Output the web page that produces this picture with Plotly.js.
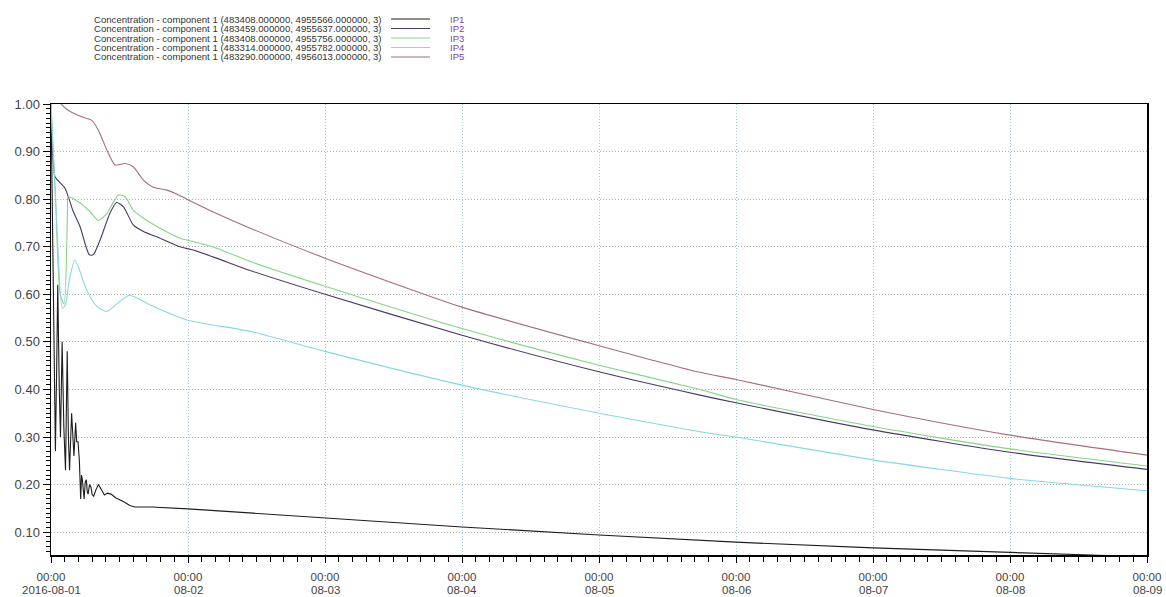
<!DOCTYPE html>
<html>
<head>
<meta charset="utf-8">
<script src="https://cdn.plot.ly/plotly-3.0.1.min.js"></script>
<style>html,body{margin:0;padding:0;background:#fff;}#chart{width:1166px;height:597px;}</style>
</head>
<body>
<div id="chart"></div>
<script>
// ---- data (hours since 2016-08-01 00:00, concentration) ----
const seriesNames = ["IP1", "IP2", "IP3", "IP4", "IP5"];
const seriesLabels = [
  "Concentration - component 1 (483408.000000, 4955566.000000, 3)",
  "Concentration - component 1 (483459.000000, 4955637.000000, 3)",
  "Concentration - component 1 (483408.000000, 4955756.000000, 3)",
  "Concentration - component 1 (483314.000000, 4955782.000000, 3)",
  "Concentration - component 1 (483290.000000, 4956013.000000, 3)"
];
const seriesColors = ["#1e1e1e", "#453a68", "#86d486", "#86d8e2", "#a86c7a"];

const ip1Hours = [0, 0.15, 0.35, 0.6, 0.77, 1.0, 1.18, 1.45, 1.66, 1.95, 2.25, 2.54, 2.84, 3.05, 3.25, 3.61, 3.8, 4.02, 4.32, 4.5, 4.73, 4.97, 5.2, 5.35, 5.5, 5.65, 5.8, 6.0, 6.2, 6.35, 6.5, 6.75, 7.0, 7.2, 7.46, 7.9, 8.3, 8.8, 9.35, 9.9, 10.5, 11.4, 12.1, 12.9, 13.8, 14.7, 17.6, 20, 24, 35.4, 48, 72, 96, 120, 144, 168, 185, 192];
const ip1Values = [1.0, 0.85, 0.62, 0.36, 0.27, 0.45, 0.62, 0.40, 0.30, 0.50, 0.32, 0.23, 0.48, 0.30, 0.23, 0.35, 0.30, 0.26, 0.33, 0.29, 0.29, 0.25, 0.17, 0.22, 0.21, 0.18, 0.17, 0.205, 0.21, 0.185, 0.18, 0.20, 0.195, 0.18, 0.175, 0.19, 0.20, 0.19, 0.178, 0.182, 0.18, 0.172, 0.168, 0.163, 0.156, 0.153, 0.153, 0.151, 0.149, 0.14, 0.130, 0.111, 0.094, 0.079, 0.067, 0.058, 0.051, 0.048];

const ip2Hours = [0, 0.3, 0.7, 2.45, 3.9, 5.1, 6.7, 7.4, 8.6, 10.3, 11.5, 12.7, 14.4, 16.2, 19.1, 22.6, 24.9, 29, 34.9, 48, 72, 96, 113.7, 120, 144, 168, 192];
const ip2Values = [1.0, 0.90, 0.847, 0.823, 0.774, 0.742, 0.683, 0.683, 0.714, 0.770, 0.793, 0.784, 0.746, 0.732, 0.718, 0.700, 0.693, 0.676, 0.650, 0.600, 0.514, 0.437, 0.388, 0.372, 0.315, 0.268, 0.232];

const ip3Hours = [0, 0.8, 1.6, 2.3, 2.9, 3.0, 5.1, 6.8, 8.3, 9.8, 11.8, 13.0, 14.4, 16.2, 19.1, 22.6, 24.9, 29, 34.9, 48, 72, 96, 113.7, 120, 144, 168, 192];
const ip3Values = [1.0, 0.80, 0.60, 0.58, 0.78, 0.805, 0.792, 0.774, 0.755, 0.770, 0.809, 0.805, 0.777, 0.760, 0.739, 0.718, 0.711, 0.697, 0.669, 0.617, 0.528, 0.451, 0.400, 0.379, 0.322, 0.275, 0.239];

const ip4Hours = [0, 1.0, 2.0, 2.6, 3.2, 4.2, 6.25, 8.0, 9.8, 12.0, 13.8, 17.3, 23.8, 34.9, 48, 72, 96, 113.7, 120, 144, 168, 192];
const ip4Values = [1.0, 0.75, 0.57, 0.58, 0.63, 0.672, 0.609, 0.575, 0.564, 0.585, 0.598, 0.578, 0.546, 0.522, 0.480, 0.409, 0.350, 0.311, 0.300, 0.252, 0.213, 0.187];

const ip5Hours = [0, 1.5, 1.9, 3.0, 5.4, 7.1, 8.3, 9.8, 11.2, 13.0, 14.4, 16.2, 17.9, 20.3, 22.0, 23.8, 29, 34.9, 48, 72, 96, 113.7, 120, 144, 168, 192];
const ip5Values = [1.02, 1.005, 0.998, 0.987, 0.973, 0.966, 0.945, 0.903, 0.872, 0.875, 0.868, 0.840, 0.825, 0.819, 0.811, 0.800, 0.770, 0.739, 0.676, 0.573, 0.492, 0.436, 0.421, 0.358, 0.304, 0.262];

const tickDays = ["2016-08-01", "2016-08-02", "2016-08-03", "2016-08-04", "2016-08-05", "2016-08-06", "2016-08-07", "2016-08-08", "2016-08-09"];
const tickTimes = ["00:00", "00:00", "00:00", "00:00", "00:00", "00:00", "00:00", "00:00", "00:00"];
const tickDates = ["2016-08-01", "08-02", "08-03", "08-04", "08-05", "08-06", "08-07", "08-08", "08-09"];
const yTickVals = [0.1, 0.2, 0.3, 0.4, 0.5, 0.6, 0.7, 0.8, 0.9, 1.0];
const yTickText = ["0.10", "0.20", "0.30", "0.40", "0.50", "0.60", "0.70", "0.80", "0.90", "1.00"];

// ---- helpers ----
const startMs = Date.UTC(2016, 7, 1, 0, 0, 0);
function toDate(h) {
  const d = new Date(startMs + h * 3600000);
  const p = n => String(n).padStart(2, "0");
  return d.getUTCFullYear() + "-" + p(d.getUTCMonth() + 1) + "-" + p(d.getUTCDate()) + " " +
    p(d.getUTCHours()) + ":" + p(d.getUTCMinutes()) + ":" + p(d.getUTCSeconds());
}
const hoursList = [ip1Hours, ip2Hours, ip3Hours, ip4Hours, ip5Hours];
const valuesList = [ip1Values, ip2Values, ip3Values, ip4Values, ip5Values];

const traces = seriesNames.map((n, i) => ({
  type: "scatter",
  mode: "lines",
  name: n,
  x: hoursList[i].map(toDate),
  y: valuesList[i],
  line: { color: seriesColors[i], width: 1.1, shape: i === 0 ? "linear" : "spline", smoothing: 0.6 },
  showlegend: false,
  hoverinfo: "x+y+name"
}));

// ---- layout ----
const W = 1166, H = 597;
const M = { l: 51, r: 19, t: 104, b: 42 };
const pw = W - M.l - M.r, ph = H - M.t - M.b;
const px = x => (x - M.l) / pw;
const py = y => (H - M.b - y) / ph;
const FONT = "Liberation Sans, Arial, sans-serif";

const annotations = [];
const shapes = [];
const rowY = [19, 28.5, 38, 47.5, 57];
seriesLabels.forEach((lab, i) => {
  annotations.push({
    xref: "paper", yref: "paper", x: px(384), y: py(rowY[i]),
    xanchor: "right", yanchor: "middle", showarrow: false,
    text: lab, font: { family: FONT, size: 9.6, color: "#333" }
  });
  annotations.push({
    xref: "paper", yref: "paper", x: px(448), y: py(rowY[i]),
    xanchor: "left", yanchor: "middle", showarrow: false,
    text: seriesNames[i], font: { family: FONT, size: 9.6, color: "#7f4a94" }
  });
  shapes.push({
    type: "line", xref: "paper", yref: "paper",
    x0: px(391), x1: px(430), y0: py(rowY[i]), y1: py(rowY[i]),
    line: { color: seriesColors[i], width: 1 }
  });
});
// second line of the x tick labels (dates)
tickDays.forEach((d, i) => {
  annotations.push({
    xref: "x", yref: "paper", x: d, y: py(590),
    xanchor: "center", yanchor: "middle", showarrow: false,
    text: tickDates[i], font: { family: FONT, size: 11.5, color: "#444" }
  });
});

const layout = {
  width: W, height: H,
  margin: M,
  paper_bgcolor: "#fff", plot_bgcolor: "#fff",
  font: { family: FONT, size: 12, color: "#444" },
  showlegend: false,
  xaxis: {
    type: "date",
    range: [toDate(0), toDate(192)],
    tickmode: "array",
    tickvals: tickDays,
    ticktext: tickTimes,
    tickfont: { size: 11.5, color: "#444" },
    ticks: "outside", ticklen: 6, tickcolor: "#000", tickwidth: 1,
    ticklabelstandoff: 5,
    minor: { dtick: 2.4 * 3600000, tick0: "2016-08-01", ticks: "outside", ticklen: 5, tickcolor: "#000", showgrid: false },
    showgrid: true, gridcolor: "#9fd0d8", griddash: "1px,2px", gridwidth: 1,
    showline: true, linecolor: "#000", linewidth: 1.5, mirror: true,
    zeroline: false, fixedrange: true
  },
  yaxis: {
    range: [0.052, 1.0],
    tickmode: "array",
    tickvals: yTickVals,
    ticktext: yTickText,
    tickfont: { size: 13, color: "#444" },
    ticks: "outside", ticklen: 7, tickcolor: "#000", tickwidth: 1,
    minor: { dtick: 0.01, tick0: 0, ticks: "outside", ticklen: 4, tickcolor: "#000", showgrid: false },
    showgrid: true, gridcolor: "#a9b8bc", griddash: "1px,2px", gridwidth: 1,
    showline: true, linecolor: "#000", linewidth: 1.5, mirror: true,
    zeroline: false, fixedrange: true
  },
  annotations: annotations,
  shapes: shapes
};

Plotly.newPlot("chart", traces, layout, { displayModeBar: false, staticPlot: true });
</script>
</body>
</html>
